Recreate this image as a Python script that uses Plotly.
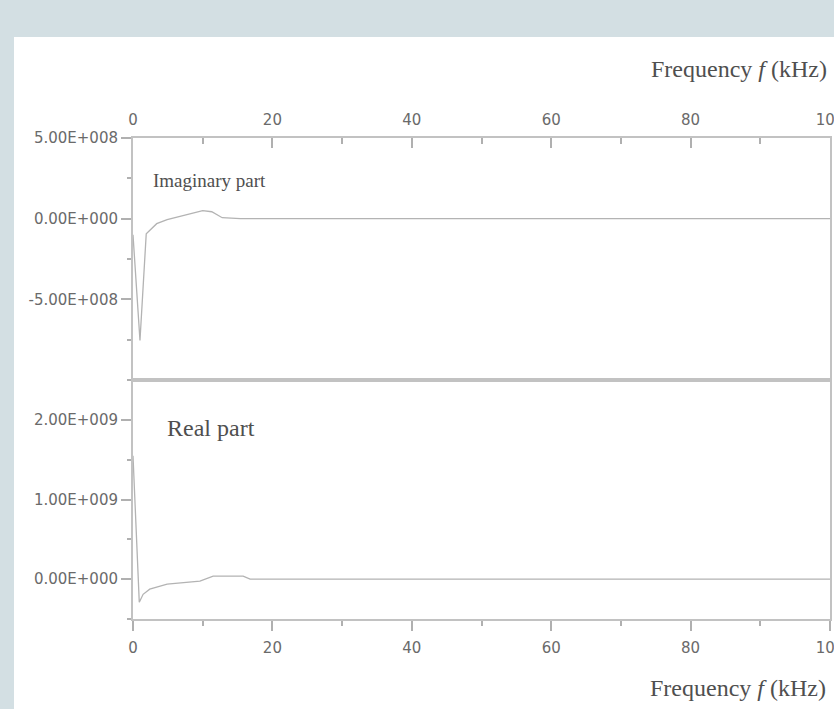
import plotly.graph_objects as go

# ---------------- data ----------------
freq_imag = [0, 1.0, 1.9, 3.4, 4.9, 7.7, 10.0, 11.3, 12.8, 15.4, 20, 30, 40, 50, 60, 70, 80, 90, 100]
imag_part = [-1.0e8, -7.55e8, -9.3e7, -3.1e7, -6.0e6, 2.5e7, 5.0e7, 4.3e7, 6.0e6, 0, 0, 0, 0, 0, 0, 0, 0, 0, 0]

freq_real = [0, 0.9, 1.45, 2.4, 4.9, 9.6, 11.5, 15.8, 16.8, 20, 30, 40, 50, 60, 70, 80, 90, 100]
real_part = [1.55e9, -2.9e8, -1.9e8, -1.25e8, -6.3e7, -2.5e7, 3.8e7, 3.8e7, 0, 0, 0, 0, 0, 0, 0, 0, 0, 0]

x_tick_vals = [0, 20, 40, 60, 80, 100]
x_tick_text = ["0", "20", "40", "60", "80", "100"]
imag_tick_vals = [-5e8, 0, 5e8]
imag_tick_text = ["-5.00E+008", "0.00E+000", "5.00E+008"]
real_tick_vals = [0, 1e9, 2e9]
real_tick_text = ["0.00E+000", "1.00E+009", "2.00E+009"]

x_title = "Frequency <i>f</i> (kHz)"
imag_label = "Imaginary part"
real_label = "Real part"

# ---------------- layout geometry ----------------
W, H = 834, 709
L, R, T, B = 133, 4, 138, 90
PW, PH = W - L - R, H - T - B
SPLIT_PX = 380


def px_x(p):
    return (p - L) / PW


def px_y(p):
    return (H - B - p) / PH


split = px_y(SPLIT_PX)

LINE_COL = "#c2c2c2"
DATA_COL = "#b3b3b3"
TICK_FONT = dict(family="DejaVu Sans", size=15, color="#6a6a6a")
SERIF = "Liberation Serif"
TEXT_COL = "#4f4f4f"

fig = go.Figure()
fig.add_trace(go.Scatter(x=freq_real, y=real_part, mode="lines",
                         line=dict(color=DATA_COL, width=1.3),
                         xaxis="x", yaxis="y", showlegend=False))
fig.add_trace(go.Scatter(x=freq_imag, y=imag_part, mode="lines",
                         line=dict(color=DATA_COL, width=1.3),
                         xaxis="x2", yaxis="y2", showlegend=False))

common_axis = dict(showline=True, linecolor=LINE_COL, linewidth=2, mirror=True,
                   showgrid=False, zeroline=False, tickcolor="#b0b0b0",
                   tickwidth=1.5, tickfont=TICK_FONT, ticklabeloverflow="allow",
                   automargin=False)

fig.update_layout(
    width=W, height=H,
    margin=dict(l=L, r=R, t=T, b=B, pad=0, autoexpand=False),
    paper_bgcolor="#d3dfe3",
    plot_bgcolor="rgba(0,0,0,0)",
    showlegend=False,
    xaxis=dict(domain=[0, 1], range=[0, 100], anchor="y", side="bottom",
               tickmode="array", tickvals=x_tick_vals, ticktext=x_tick_text,
               ticks="outside", ticklen=10, ticklabelstandoff=4,
               minor=dict(ticks="outside", ticklen=5, dtick=10, tick0=0,
                          tickcolor="#b0b0b0", tickwidth=1.5),
               **common_axis),
    xaxis2=dict(domain=[0, 1], range=[0, 100], anchor="y2", side="top",
                tickmode="array", tickvals=x_tick_vals, ticktext=x_tick_text,
                ticks="inside", ticklen=10, ticklabelstandoff=5,
                minor=dict(ticks="inside", ticklen=6, dtick=10, tick0=0,
                           tickcolor="#b0b0b0", tickwidth=1.5),
                **common_axis),
    yaxis=dict(domain=[0, split], range=[-5e8, 2.5e9], anchor="x",
               tickmode="array", tickvals=real_tick_vals, ticktext=real_tick_text,
               ticks="outside", ticklen=10,
               minor=dict(ticks="outside", ticklen=4, dtick=5e8, tick0=0,
                          tickcolor="#b0b0b0", tickwidth=1.5),
               **common_axis),
    yaxis2=dict(domain=[split, 1], range=[-1e9, 5e8], anchor="x2",
                tickmode="array", tickvals=imag_tick_vals, ticktext=imag_tick_text,
                ticks="outside", ticklen=10,
                minor=dict(ticks="outside", ticklen=4, dtick=2.5e8, tick0=0,
                           tickcolor="#b0b0b0", tickwidth=1.5),
                **common_axis),
    shapes=[dict(type="rect", xref="paper", yref="paper",
                 x0=px_x(14), x1=px_x(W + 5), y0=px_y(H + 5), y1=px_y(37),
                 fillcolor="white", line=dict(width=0), layer="below")],
    annotations=[
        dict(text=x_title, xref="paper", yref="paper", x=px_x(829), y=px_y(69),
             xanchor="right", yanchor="middle", showarrow=False,
             font=dict(family=SERIF, size=24, color=TEXT_COL)),
        dict(text=x_title, xref="paper", yref="paper", x=px_x(828), y=px_y(688),
             xanchor="right", yanchor="middle", showarrow=False,
             font=dict(family=SERIF, size=24, color=TEXT_COL)),
        dict(text=imag_label, xref="paper", yref="paper", x=px_x(151), y=px_y(181),
             xanchor="left", yanchor="middle", showarrow=False,
             font=dict(family=SERIF, size=19, color=TEXT_COL)),
        dict(text=real_label, xref="paper", yref="paper", x=px_x(165), y=px_y(428),
             xanchor="left", yanchor="middle", showarrow=False,
             font=dict(family=SERIF, size=24, color=TEXT_COL)),
    ],
)

fig.write_html("out.html",
               config={"displayModeBar": False},
               post_script="document.body.style.margin='0';document.body.style.overflow='hidden';")
